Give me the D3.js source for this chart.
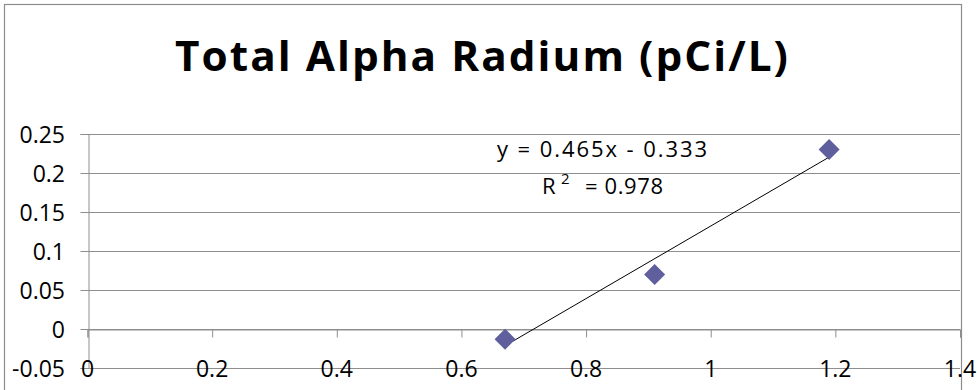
<!DOCTYPE html>
<html><head><meta charset="utf-8">
<script src="https://cdn.jsdelivr.net/npm/d3@7"></script>
<style>body{margin:0;background:#fff}svg{display:block}</style>
</head><body>
<script>
const titleText = "Total Alpha Radium (pCi/L)";
const xValues = [0.67, 0.91, 1.19];
const yValues = [-0.013, 0.07, 0.23];
const xTicks = [0, 0.2, 0.4, 0.6, 0.8, 1, 1.2, 1.4];
const yTicks = [-0.05, 0, 0.05, 0.1, 0.15, 0.2, 0.25];
const trendSlope = 0.465;
const trendIntercept = -0.333;
const rSquared = 0.978;

const W = 977, H = 390;
const svg = d3.select("body").append("svg").attr("width", W).attr("height", H);
svg.append("rect").attr("x", 4.5).attr("y", 4.5).attr("width", 957).attr("height", 420)
  .attr("fill", "#fff").attr("stroke", "#8c8c8c").attr("stroke-width", 1.2);

const x = d3.scaleLinear().domain([0, 1.4]).range([87.5, 960]);
const y = d3.scaleLinear().domain([-0.05, 0.25]).range([368, 134]);
const grid = "#8e8e8e";
const fmt = d => String(+d.toFixed(2));
const lblFont = { family: "Open Sans", size: 23 };

// gridlines
svg.append("g").selectAll("line").data(yTicks).join("line")
  .attr("x1", x(0)).attr("x2", x(1.4))
  .attr("y1", d => Math.round(y(d)) + 0.5).attr("y2", d => Math.round(y(d)) + 0.5)
  .attr("stroke", grid).attr("stroke-width", 1);

// y axis
const yAxis = d3.axisLeft(y).tickValues(yTicks).tickSize(8).tickFormat("");
const gy = svg.append("g").attr("transform", `translate(${Math.round(x(0)) + 0.5},0)`).call(yAxis);
gy.selectAll("line,path").attr("stroke", grid);
gy.selectAll(".tick").attr("transform", d => `translate(0,${Math.round(y(d)) + 0.5})`);
svg.append("g").selectAll("text").data(yTicks).join("text")
  .attr("x", 65).attr("y", d => y(d) + 9)
  .attr("text-anchor", "end")
  .attr("font-family", lblFont.family).attr("font-size", lblFont.size)
  .attr("fill", "#000").text(fmt);

// x axis at y=0
const xAxis = d3.axisBottom(x).tickValues(xTicks).tickSize(8).tickFormat("");
const gx = svg.append("g").attr("transform", `translate(0,${Math.round(y(0)) + 0.5})`).call(xAxis);
gx.selectAll("line,path").attr("stroke", grid);
svg.append("g").selectAll("text").data(xTicks).join("text")
  .attr("x", d => x(d)).attr("y", 377)
  .attr("text-anchor", "middle")
  .attr("font-family", lblFont.family).attr("font-size", lblFont.size)
  .attr("fill", "#000").text(fmt);

// trendline
const tx = d3.extent(xValues);
svg.append("line")
  .attr("x1", x(tx[0])).attr("y1", y(trendSlope * tx[0] + trendIntercept))
  .attr("x2", x(tx[1])).attr("y2", y(trendSlope * tx[1] + trendIntercept))
  .attr("stroke", "#000").attr("stroke-width", 1);

// points
const diamond = d3.symbol().type(d3.symbolSquare).size(220);
svg.append("g").selectAll("path").data(xValues.map((v, i) => [v, yValues[i]])).join("path")
  .attr("d", diamond)
  .attr("transform", d => `translate(${x(d[0])},${y(d[1])}) rotate(45)`)
  .attr("fill", "#5f5f9d");

// equation
svg.append("text").attr("x", 497).attr("y", 157)
  .attr("font-family", "Open Sans").attr("font-size", 22)
  .attr("textLength", 210).attr("lengthAdjust", "spacing")
  .text(`y = ${trendSlope}x  - ${Math.abs(trendIntercept)}`);
const r = svg.append("text").attr("y", 194)
  .attr("font-family", "Open Sans").attr("font-size", 22);
r.append("tspan").attr("x", 542).text("R");
r.append("tspan").attr("x", 561).attr("dy", -10).attr("font-size", 15).text("2");
r.append("tspan").attr("x", 585).attr("dy", 10).attr("textLength", 78).text(`= ${rSquared}`);

// title
svg.append("text").attr("x", 175).attr("y", 71)
  .attr("font-family", "Open Sans").attr("font-weight", "bold").attr("font-size", 41)
  .attr("letter-spacing", 2)
  .attr("textLength", 615).attr("lengthAdjust", "spacingAndGlyphs")
  .text(titleText);
</script>
</body></html>
